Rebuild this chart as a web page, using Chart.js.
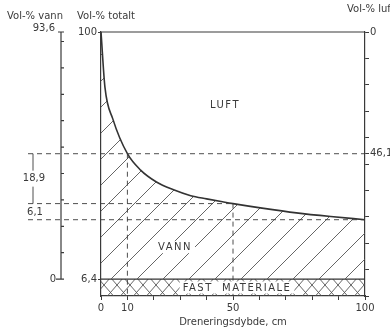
<!DOCTYPE html>
<html>
<head>
<meta charset="utf-8">
<script src="https://cdn.jsdelivr.net/npm/chart.js@4"></script>
<style>
  body { margin: 0; background: #fff; }
  #wrap { width: 390px; height: 328px; }
</style>
</head>
<body>
<div id="wrap"><canvas id="grafico"></canvas></div>
<script>
// dreneringsdybde (cm) og volumprosent totalt (fast + vann) langs kurven
const dybde = [0, 1.5, 4.5, 10, 15, 21, 27, 34, 40, 46, 50, 61, 74, 87, 100];
const totalt = [100, 79, 67, 53.9, 47.7, 43.2, 40.4, 38.0, 36.8, 35.7, 35.0, 33.3, 31.5, 30.1, 28.9];

const fastMateriale = 6.4;       // vol-% fast stoff
const vannMaks = 93.6;           // vol-% vann ved metning

// hjelpelinjer: dybde og totalt vol-% der de treffer kurven
const hjelpDybde = [10, 50, 100];
const hjelpTotalt = [53.9, 35.0, 28.9];
const luftVed10 = 46.1;
const diffLabels = ['18,9', '6,1'];

const xTicks = [0, 10, 20, 30, 40, 50, 60, 70, 80, 90, 100];
const xTickLabels = { 0: '0', 10: '10', 50: '50', 100: '100' };
const vannTicks = [0, 10, 20, 30, 40, 50, 60, 70, 80, 90];

const farge = '#3a3a3a';
const font = 'DejaVu Sans';

function skravur(w, h, kryss) {
    const c = document.createElement('canvas');
    c.width = w; c.height = h;
    const g = c.getContext('2d');
    g.strokeStyle = '#555';
    g.lineWidth = 0.9;
    g.beginPath();
    for (let o = -w; o <= w; o += w) {
        g.moveTo(o, h); g.lineTo(o + w, 0);
        if (kryss) { g.moveTo(o, 0); g.lineTo(o + w, h); }
    }
    g.stroke();
    return document.createElement('canvas').getContext('2d').createPattern(c, 'repeat');
}

const punkter = dybde.map((d, i) => ({ x: d, y: totalt[i] }));

const tegnEkstra = {
    id: 'tegnEkstra',
    afterDatasetsDraw(chart) {
        const ctx = chart.ctx;
        const xs = chart.scales.x, ys = chart.scales.y;
        const a = chart.chartArea;
        ctx.save();

        // ramme oppe
        ctx.strokeStyle = farge;
        ctx.lineWidth = 1.2;
        ctx.beginPath();
        ctx.moveTo(a.left, a.top); ctx.lineTo(a.right, a.top);
        ctx.stroke();

        // stiplede hjelpelinjer
        ctx.lineWidth = 0.9;
        ctx.setLineDash([5, 4]);
        const venstre = 28;
        hjelpDybde.forEach((d, i) => {
            const py = ys.getPixelForValue(hjelpTotalt[i]);
            const px = xs.getPixelForValue(d);
            const slutt = (i === 1) ? px : a.right;
            ctx.beginPath();
            ctx.moveTo(venstre, py); ctx.lineTo(slutt, py);
            if (d < 100) {
                ctx.moveTo(px, py); ctx.lineTo(px, a.bottom);
            }
            ctx.stroke();
        });
        ctx.setLineDash([]);

        // akse for vol-% vann
        const vx = 61;
        const yTopp = ys.getPixelForValue(fastMateriale + vannMaks);
        const yBunn = ys.getPixelForValue(fastMateriale);
        ctx.lineWidth = 1.2;
        ctx.beginPath();
        ctx.moveTo(vx, yTopp); ctx.lineTo(vx, yBunn);
        ctx.moveTo(vx - 3, yTopp); ctx.lineTo(vx + 3, yTopp);
        ctx.moveTo(vx - 5, yBunn); ctx.lineTo(vx + 3, yBunn);
        vannTicks.forEach(v => {
            if (v === 0) return;
            const py = ys.getPixelForValue(v + fastMateriale);
            ctx.moveTo(vx, py); ctx.lineTo(vx + 3, py);
        });
        ctx.stroke();

        ctx.fillStyle = farge;
        ctx.font = '10px "' + font + '"';
        ctx.textBaseline = 'middle';
        ctx.textAlign = 'right';
        ctx.fillText('93,6', 55, yTopp - 4);
        ctx.fillText('0', 56, yBunn);

        // dimensjonsmerker 18,9 og 6,1
        const y1 = ys.getPixelForValue(hjelpTotalt[0]);
        const y2 = ys.getPixelForValue(hjelpTotalt[1]);
        const y3 = ys.getPixelForValue(hjelpTotalt[2]);
        const ym = (y1 + y2) / 2;
        ctx.lineWidth = 0.9;
        ctx.beginPath();
        ctx.moveTo(33, y1); ctx.lineTo(33, ym - 8);
        ctx.moveTo(33, ym + 8); ctx.lineTo(33, y2);
        ctx.stroke();
        ctx.textAlign = 'center';
        ctx.fillText(diffLabels[0], 34, ym);
        ctx.fillText(diffLabels[1], 35, (y2 + y3) / 2 + 1);

        // overskrifter
        ctx.textAlign = 'left';
        ctx.fillText('Vol-% vann', 7, 16);
        ctx.fillText('Vol-% totalt', 77, 16);
        ctx.fillText('Vol-% luft', 347, 9);

        // områdetekster
        ctx.letterSpacing = '1.5px';
        ctx.textAlign = 'center';
        ctx.fillText('LUFT', 225, 105);
        const bokser = [
            { t: 'VANN', x: 175, y: ys.getPixelForValue(18.5) },
            { t: 'FAST  MATERIALE', x: 237, y: (yBunn + a.bottom) / 2 }
        ];
        bokser.forEach(b => {
            const w = ctx.measureText(b.t).width;
            ctx.fillStyle = '#fff';
            ctx.fillRect(b.x - w / 2 - 3, b.y - 6, w + 6, 12);
            ctx.fillStyle = farge;
            ctx.fillText(b.t, b.x, b.y + 0.5);
        });
        ctx.restore();
    }
};

const config = {
    type: 'line',
    data: {
        datasets: [{
            label: 'Totalt',
            data: punkter,
            borderColor: '#333',
            borderWidth: 1.6,
            pointRadius: 0,
            cubicInterpolationMode: 'monotone',
            fill: { value: fastMateriale },
            backgroundColor: skravur(26, 26, false)
        }, {
            label: 'Fast materiale',
            data: [{ x: 0, y: fastMateriale }, { x: 100, y: fastMateriale }],
            borderColor: '#333',
            borderWidth: 1.2,
            pointRadius: 0,
            fill: 'origin',
            backgroundColor: skravur(13, 15, true)
        }]
    },
    options: {
        responsive: true,
        maintainAspectRatio: false,
        animation: false,
        layout: { padding: { top: 32, left: 0, right: 0, bottom: 0 } },
        plugins: { legend: { display: false }, tooltip: { enabled: false } },
        scales: {
            x: {
                type: 'linear',
                min: 0, max: 100,
                afterFit: s => { s.height = 32; },
                afterBuildTicks: s => { s.ticks = xTicks.map(v => ({ value: v })); },
                grid: { drawOnChartArea: false, tickLength: 4, color: farge },
                border: { color: farge, width: 1.2 },
                ticks: {
                    color: farge, padding: 2, maxRotation: 0, autoSkip: false,
                    font: { family: font, size: 10 },
                    callback: v => xTickLabels[v] || ''
                },
                title: {
                    display: true, text: 'Dreneringsdybde, cm', color: farge,
                    font: { family: font, size: 10 }, padding: 0
                }
            },
            y: {
                type: 'linear', position: 'left',
                min: 0, max: 100,
                afterFit: s => { s.width = 101; },
                afterBuildTicks: s => { s.ticks = [{ value: fastMateriale }, { value: 100 }]; },
                grid: { drawOnChartArea: false, tickLength: 3, color: farge },
                border: { color: farge, width: 1.2 },
                ticks: {
                    color: farge, padding: 1,
                    font: { family: font, size: 10 },
                    callback: v => String(v).replace('.', ',')
                }
            },
            luft: {
                type: 'linear', position: 'right',
                min: 0, max: 100, reverse: true,
                afterFit: s => { s.width = 25; },
                afterBuildTicks: s => {
                    s.ticks = xTicks.concat([luftVed10]).sort((p, q) => p - q).map(v => ({ value: v }));
                },
                grid: { drawOnChartArea: false, tickLength: 4, color: farge },
                border: { color: farge, width: 1.2 },
                ticks: {
                    color: farge, padding: 1, autoSkip: false,
                    font: { family: font, size: 10 },
                    callback: v => v === 0 ? '0' : (v === luftVed10 ? '46,1' : '')
                }
            }
        }
    },
    plugins: [tegnEkstra]
};

const chart = new Chart(document.getElementById('grafico').getContext('2d'), config);
</script>
</body>
</html>
